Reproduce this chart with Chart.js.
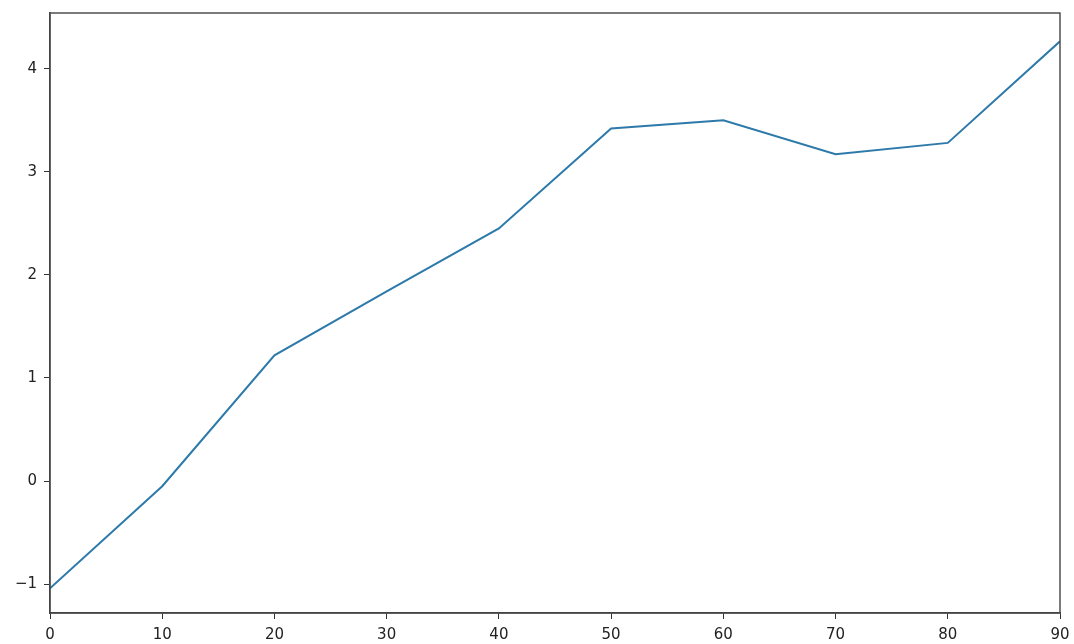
<!DOCTYPE html>
<html>
<head>
<meta charset="utf-8">
<script src="https://cdn.jsdelivr.net/npm/chart.js@4/dist/chart.umd.min.js"></script>
<style>
  html, body { margin: 0; padding: 0; background: #fff; }
  #wrap { width: 1074px; height: 644px; position: relative; }
</style>
</head>
<body>
<div id="wrap"><canvas id="c"></canvas></div>
<script>
const xValues = [0, 10, 20, 30, 40, 50, 60, 70, 80, 90];
const yValues = [-1.04, -0.05, 1.22, 1.84, 2.45, 3.42, 3.50, 3.17, 3.28, 4.265];
const xTicks = [0, 10, 20, 30, 40, 50, 60, 70, 80, 90];
const yTicks = [-1, 0, 1, 2, 3, 4];

const frame = {
  id: 'frame',
  afterDraw(chart) {
    const a = chart.chartArea, ctx = chart.ctx;
    ctx.save();
    ctx.strokeStyle = '#444';
    ctx.lineWidth = 1.4;
    ctx.strokeRect(a.left, a.top, a.right - a.left, a.bottom - a.top);
    ctx.restore();
  }
};

function zeroPad(s) {
  s.paddingLeft = 0; s.paddingRight = 0; s.paddingTop = 0; s.paddingBottom = 0;
}

new Chart(document.getElementById('c'), {
  type: 'line',
  data: {
    datasets: [{
      data: xValues.map((x, i) => ({ x: x, y: yValues[i] })),
      borderColor: '#2d7aaa',
      borderWidth: 2,
      pointRadius: 0,
      tension: 0,
      fill: false
    }]
  },
  options: {
    responsive: true,
    maintainAspectRatio: false,
    animation: false,
    layout: { padding: { top: 13, right: 14, left: 0, bottom: 0 } },
    plugins: { legend: { display: false }, tooltip: { enabled: false } },
    scales: {
      x: {
        type: 'linear',
        min: 0, max: 90,
        afterBuildTicks: s => { s.ticks = xTicks.map(v => ({ value: v })); },
        afterFit: s => { s.height = 31; zeroPad(s); },
        grid: { drawOnChartArea: false, drawTicks: true, tickLength: 6, color: '#333' },
        border: { display: true, color: '#444', width: 1.4 },
        ticks: {
          color: '#222',
          padding: 7,
          maxRotation: 0,
          font: { family: 'DejaVu Sans', size: 15 },
          callback: v => String(v)
        }
      },
      y: {
        type: 'linear',
        min: -1.28, max: 4.54,
        afterBuildTicks: s => { s.ticks = yTicks.map(v => ({ value: v })); },
        afterFit: s => { s.width = 50; zeroPad(s); },
        grid: { drawOnChartArea: false, drawTicks: true, tickLength: 6, color: '#333' },
        border: { display: true, color: '#444', width: 1.4 },
        ticks: {
          color: '#222',
          padding: 7,
          font: { family: 'DejaVu Sans', size: 15 },
          callback: v => (v < 0 ? '\u2212' + Math.abs(v) : String(v))
        }
      }
    }
  },
  plugins: [frame]
});
</script>
</body>
</html>
